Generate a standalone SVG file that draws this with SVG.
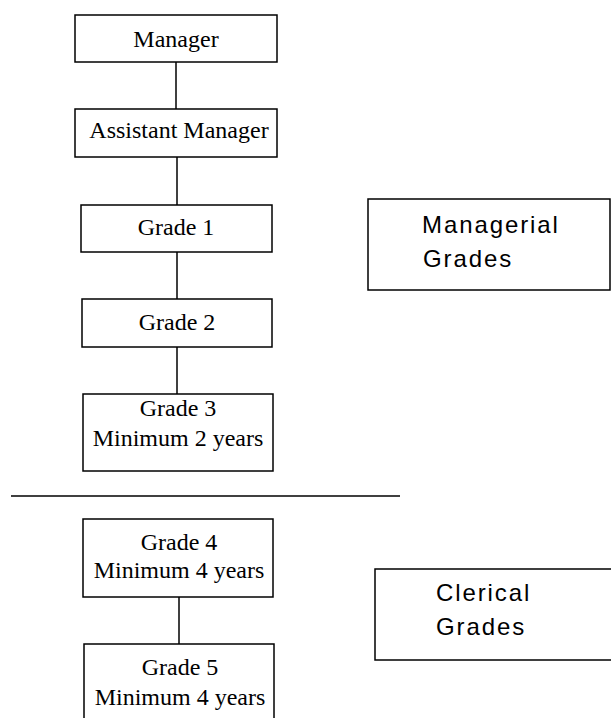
<svg xmlns="http://www.w3.org/2000/svg" width="611" height="718" viewBox="0 0 611 718">
<style>
.box{fill:#fff;stroke:#000;stroke-width:1.5}
.ln{stroke:#000;stroke-width:1.5;fill:none}
.t{font-family:"Liberation Serif","Times New Roman",serif;font-size:24px;text-anchor:middle;fill:#000}
.s{font-family:"Liberation Sans",Arial,sans-serif;font-size:24px;letter-spacing:1.9px;fill:#000}
</style>
<rect width="611" height="718" fill="#fff"/>
<g id="connectors">
<line class="ln" x1="176" y1="62" x2="176" y2="109"/>
<line class="ln" x1="177" y1="157" x2="177" y2="205"/>
<line class="ln" x1="177" y1="252" x2="177" y2="299"/>
<line class="ln" x1="177" y1="347" x2="177" y2="394"/>
<line class="ln" x1="179" y1="597" x2="179" y2="644"/>
<line class="ln" x1="11" y1="496" x2="400" y2="496"/>
</g>
<g id="manager">
<rect class="box" x="75" y="15" width="202" height="47"/>
<text class="t" x="176" y="47">Manager</text>
</g>
<g id="assistant-manager">
<rect class="box" x="75" y="109" width="202" height="48"/>
<text class="t" x="179" y="138">Assistant Manager</text>
</g>
<g id="grade1">
<rect class="box" x="81" y="205" width="191" height="47"/>
<text class="t" x="176" y="235">Grade 1</text>
</g>
<g id="grade2">
<rect class="box" x="82" y="299" width="190" height="48"/>
<text class="t" x="177" y="330">Grade 2</text>
</g>
<g id="grade3">
<rect class="box" x="83" y="394" width="190" height="77"/>
<text class="t" x="178" y="416">Grade 3</text>
<text class="t" x="178" y="446">Minimum 2 years</text>
</g>
<g id="grade4">
<rect class="box" x="83" y="519" width="190" height="78"/>
<text class="t" x="179" y="550">Grade 4</text>
<text class="t" x="179" y="578">Minimum 4 years</text>
</g>
<g id="grade5">
<rect class="box" x="84" y="644" width="190" height="80"/>
<text class="t" x="180" y="675">Grade 5</text>
<text class="t" x="180" y="705">Minimum 4 years</text>
</g>
<g id="managerial-grades">
<rect class="box" x="368" y="199" width="242" height="91"/>
<text class="s" x="422" y="233">Managerial</text>
<text class="s" x="423" y="267">Grades</text>
</g>
<g id="clerical-grades">
<rect class="box" x="375" y="569" width="245" height="91"/>
<text class="s" x="436" y="601">Clerical</text>
<text class="s" x="436" y="635">Grades</text>
</g>
</svg>
